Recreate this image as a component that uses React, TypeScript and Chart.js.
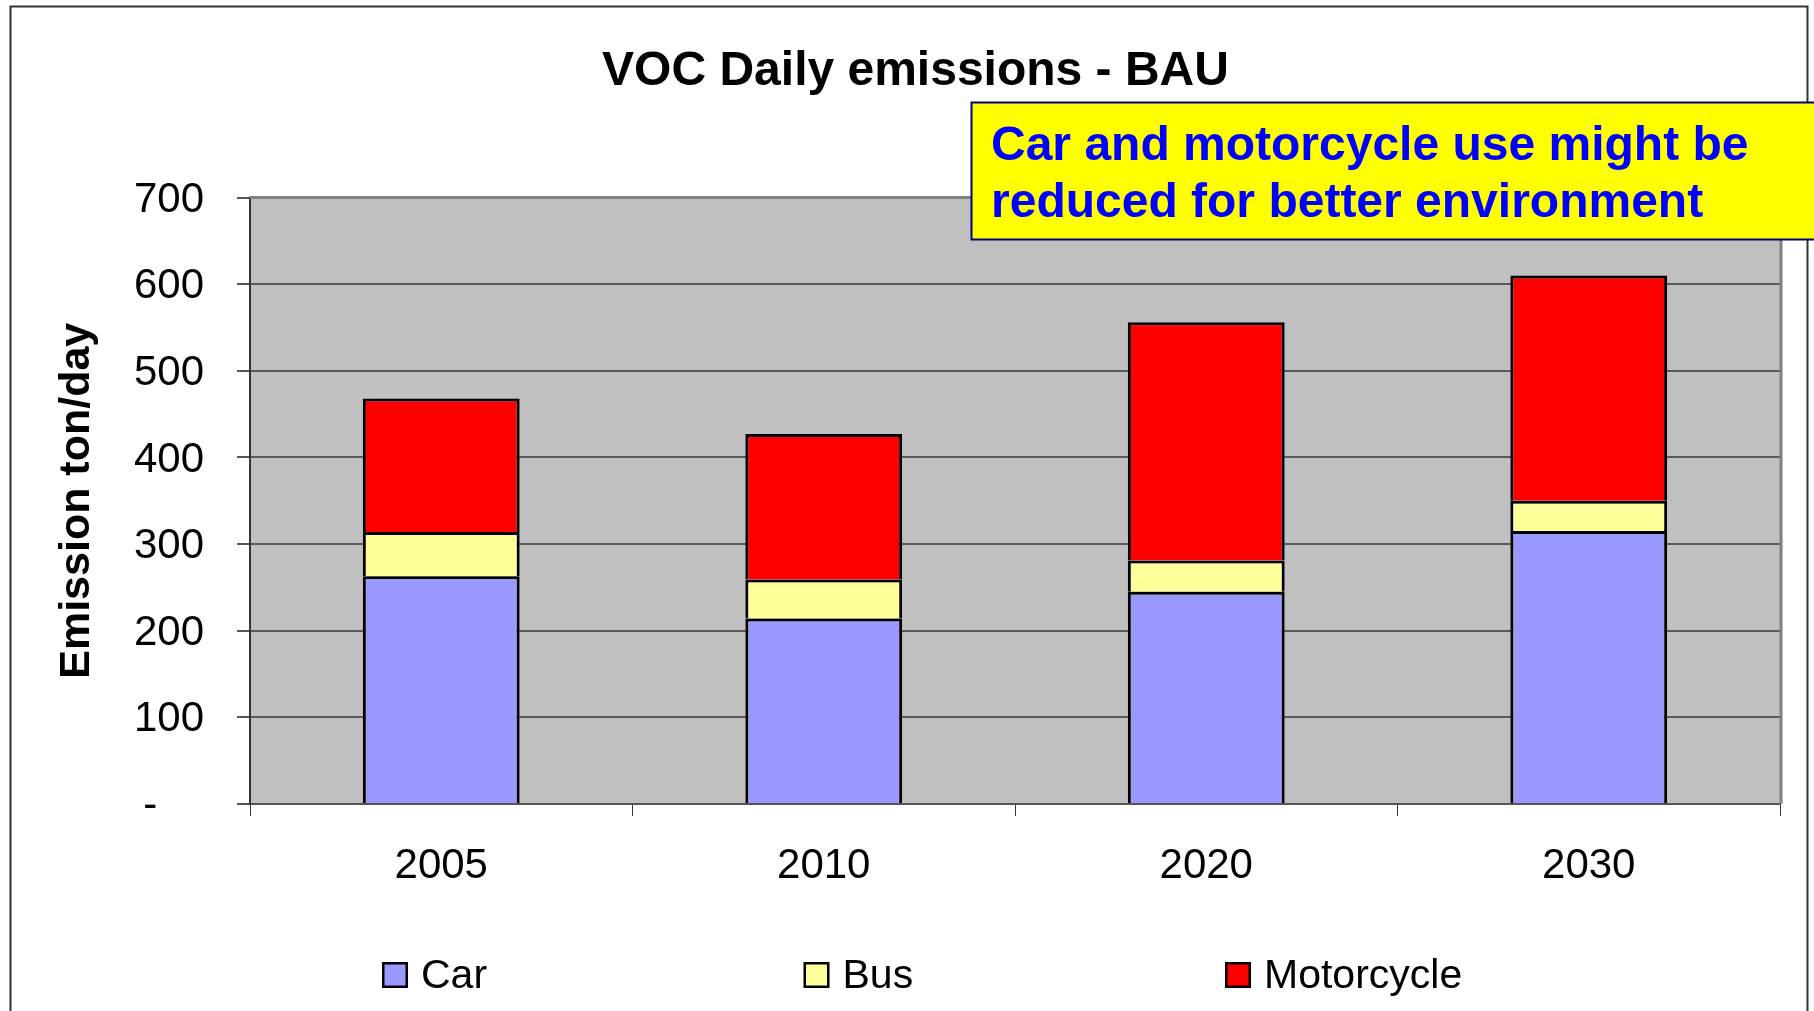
import React, { useEffect, useRef } from "react";
import { Chart, registerables } from "chart.js";

Chart.register(...registerables);

// ---- data ----
const categories = ["2005", "2010", "2020", "2030"];
const carValues = [263, 214, 245, 315];
const busValues = [51, 45, 36, 35];
const motorcycleValues = [154, 168, 275, 260];
const seriesLabels = ["Car", "Bus", "Motorcycle"];
const seriesColors = ["#9999FF", "#FFFF99", "#FF0000"];
const chartTitle = "VOC Daily emissions - BAU";
const yAxisTitle = "Emission ton/day";
const noteLines = ["Car and motorcycle use might be", "reduced for better environment"];

const FONT = 'Arial, "Liberation Sans", sans-serif';
const PAD_LEFT = 51;

const framePlugin = {
  id: "frame",
  beforeDraw(chart: any) {
    const { ctx, chartArea, width, height } = chart;
    ctx.save();
    ctx.fillStyle = "#FFFFFF";
    ctx.fillRect(0, 0, width, height);
    ctx.strokeStyle = "#333333";
    ctx.lineWidth = 2;
    ctx.strokeRect(10.5, 6.5, 1797, 1100);
    ctx.fillStyle = "#C0C0C0";
    ctx.fillRect(chartArea.left, chartArea.top, chartArea.right - chartArea.left, chartArea.bottom - chartArea.top);
    ctx.restore();
  },
  beforeDatasetsDraw(chart: any) {
    const { ctx, chartArea } = chart;
    ctx.save();
    ctx.strokeStyle = "#808080";
    ctx.lineWidth = 3;
    ctx.beginPath();
    ctx.moveTo(chartArea.left, chartArea.top);
    ctx.lineTo(chartArea.right + 1, chartArea.top);
    ctx.lineTo(chartArea.right + 1, chartArea.bottom);
    ctx.stroke();
    ctx.restore();
  },
};

const overlayPlugin = {
  id: "overlay",
  afterDraw(chart: any) {
    const { ctx } = chart;
    ctx.save();
    // legend
    const startX = 382;
    const step = 421.5;
    const boxTop = 962;
    chart.data.datasets.forEach((ds: any, i: number) => {
      const x = startX + i * step;
      ctx.fillStyle = ds.backgroundColor;
      ctx.fillRect(x, boxTop, 26, 26);
      ctx.strokeStyle = "#000000";
      ctx.lineWidth = 2.5;
      ctx.strokeRect(x + 1.25, boxTop + 1.25, 23.5, 23.5);
      ctx.fillStyle = "#000000";
      ctx.font = `41px ${FONT}`;
      ctx.textAlign = "left";
      ctx.textBaseline = "middle";
      ctx.fillText(ds.label, x + 39, boxTop + 15);
    });
    // note box
    ctx.fillStyle = "#FFFF00";
    ctx.fillRect(971, 102, 900, 138);
    ctx.strokeStyle = "#000080";
    ctx.lineWidth = 2;
    ctx.strokeRect(971.5, 102.5, 900, 137);
    ctx.fillStyle = "#0000FF";
    ctx.font = `bold 48px ${FONT}`;
    ctx.textAlign = "left";
    ctx.textBaseline = "alphabetic";
    noteLines.forEach((line, i) => {
      ctx.fillText(line, 991, 160 + i * 57.3);
    });
    ctx.restore();
  },
};

export default function App() {
  const canvasRef = useRef<HTMLCanvasElement | null>(null);

  useEffect(() => {
    const canvas = canvasRef.current;
    if (!canvas) return;
    const chart = new Chart(canvas, {
      type: "bar",
      data: {
        labels: categories,
        datasets: [
          { label: seriesLabels[0], data: carValues, backgroundColor: seriesColors[0] },
          { label: seriesLabels[1], data: busValues, backgroundColor: seriesColors[1] },
          { label: seriesLabels[2], data: motorcycleValues, backgroundColor: seriesColors[2] },
        ].map((d) => ({
          ...d,
          borderColor: "#000000",
          borderWidth: 3,
          categoryPercentage: 1,
          barPercentage: 0.41,
        })),
      },
      options: {
        responsive: false,
        animation: false,
        devicePixelRatio: 1,
        layout: { padding: { left: PAD_LEFT, right: 34, top: 0, bottom: 107 } },
        plugins: {
          legend: { display: false },
          tooltip: { enabled: false },
          title: {
            display: true,
            text: chartTitle,
            color: "#000000",
            font: { family: FONT, size: 48, weight: "bold" },
            padding: { top: 43, bottom: 96.9 },
          },
        },
        scales: {
          x: {
            stacked: true,
            afterFit: (s: any) => {
              s.height = 100;
            },
            grid: {
              display: true,
              drawOnChartArea: false,
              drawTicks: true,
              tickLength: 12,
              color: "#333333",
              offset: true,
            },
            border: { display: true, color: "#555555", width: 2 },
            ticks: {
              color: "#000000",
              font: { family: FONT, size: 42 },
              padding: 25,
              maxRotation: 0,
            },
          },
          y: {
            stacked: true,
            min: 0,
            max: 700,
            afterFit: (s: any) => {
              s.width = 250 - PAD_LEFT;
            },
            grid: {
              color: (c: any) => (c.tick && c.tick.value === 700 ? "rgba(0,0,0,0)" : "#5A5A5A"),
              lineWidth: 2,
              tickColor: "#555555",
              tickLength: 13,
            },
            border: { display: true, color: "#333333", width: 2 },
            ticks: {
              stepSize: 100,
              color: "#000000",
              font: { family: FONT, size: 42 },
              padding: 33,
              labelOffset: 2.5,
              callback: (v: any) => (Number(v) === 0 ? "-    " : String(v)),
            },
            title: {
              display: true,
              text: yAxisTitle,
              color: "#000000",
              font: { family: FONT, size: 43, weight: "bold" },
              padding: { top: 0, bottom: 0 },
            },
          },
        },
      },
      plugins: [framePlugin, overlayPlugin],
    } as any);
    return () => chart.destroy();
  }, []);

  return (
    <div style={{ position: "absolute", left: 0, top: 0, width: 1814, height: 1011, overflow: "hidden" }}>
      <canvas ref={canvasRef} width={1814} height={1011} style={{ display: "block" }} />
    </div>
  );
}
